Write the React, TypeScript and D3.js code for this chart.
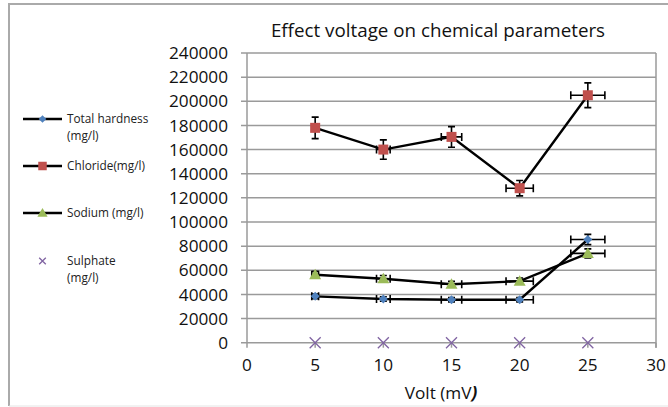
import * as d3 from 'd3'
import { useRef, useEffect } from 'react'

// volts on x axis
const volts = [5, 10, 15, 20, 25]
const hardness = [38400, 36200, 35600, 35600, 85500]
const chloride = [178000, 160000, 170500, 128000, 205000]
const sodium = [56300, 53000, 48400, 51000, 74000]
const sulphate = [0, 0, 0, 0, 0]
const yTicks = [0, 20000, 40000, 60000, 80000, 100000, 120000, 140000, 160000, 180000, 200000, 220000, 240000]
const xTicks = [0, 5, 10, 15, 20, 25, 30]
const errPct = 0.05

const series = [
    { name: ['Total hardness', '(mg/l)'], values: hardness, color: '#4f81bd', shape: 'diamond', line: true, err: true },
    { name: ['Chloride(mg/l)'], values: chloride, color: '#c0504d', shape: 'square', line: true, err: true },
    { name: ['Sodium (mg/l)'], values: sodium, color: '#9bbb59', shape: 'triangle', line: true, err: true },
    { name: ['Sulphate', '(mg/l)'], values: sulphate, color: '#8064a2', shape: 'x', line: false, err: false },
]

const font = "'Open Sans', sans-serif"

function App() {
    const svgRef = useRef<SVGSVGElement>(null)

    useEffect(() => {
        const svg = d3.select(svgRef.current)
        svg.selectAll('*').remove()
        const width = 668
        const height = 407
        svg.attr('width', width).attr('height', height)

        // outer frame
        svg.append('rect').attr('x', 0).attr('y', 0).attr('width', width).attr('height', height).attr('fill', '#fff')
        svg.append('path').attr('d', `M9,406 L9,4 L668,4`).attr('fill', 'none').attr('stroke', '#aaa').attr('stroke-width', 2)
        svg.append('line').attr('x1', 9).attr('x2', 668).attr('y1', 406).attr('y2', 406).attr('stroke', '#e4e4e4')

        const left = 247, right = 656, top = 53, bottom = 342.7
        const scaleX = d3.scaleLinear().domain([0, 30]).range([left, right])
        const scaleY = d3.scaleLinear().domain([0, 240000]).range([bottom, top])

        // grid
        svg.append('g').selectAll('line').data(yTicks).join('line')
            .attr('x1', left - 6).attr('x2', right)
            .attr('y1', d => scaleY(d)).attr('y2', d => scaleY(d))
            .attr('stroke', '#9a9a9a').attr('stroke-width', 1.5)
        svg.append('line').attr('x1', left).attr('x2', left).attr('y1', top).attr('y2', bottom)
            .attr('stroke', '#9a9a9a').attr('stroke-width', 1.5)
        svg.append('line').attr('x1', right).attr('x2', right).attr('y1', top).attr('y2', bottom + 5)
            .attr('stroke', '#9a9a9a').attr('stroke-width', 1.5)
        svg.append('g').selectAll('line').data(xTicks).join('line')
            .attr('x1', d => scaleX(d)).attr('x2', d => scaleX(d))
            .attr('y1', bottom).attr('y2', bottom + 5)
            .attr('stroke', '#9a9a9a').attr('stroke-width', 1.5)

        // tick labels
        svg.append('g').selectAll('text').data(yTicks).join('text')
            .attr('x', left - 19).attr('y', d => scaleY(d))
            .attr('dy', '0.36em').attr('text-anchor', 'end')
            .attr('font-family', font).attr('font-size', 17.2).attr('fill', '#111')
            .text(d => d)
        svg.append('g').selectAll('text').data(xTicks).join('text')
            .attr('x', d => scaleX(d)).attr('y', bottom + 28)
            .attr('text-anchor', 'middle')
            .attr('font-family', font).attr('font-size', 17.2).attr('fill', '#111')
            .text(d => d)

        // titles
        svg.append('text').attr('x', 438).attr('y', 37).attr('text-anchor', 'middle')
            .attr('font-family', font).attr('font-size', 18.8).attr('fill', '#111')
            .text('Effect voltage on chemical parameters')
        const xt = svg.append('text').attr('x', 441).attr('y', 399).attr('text-anchor', 'middle')
            .attr('font-family', font).attr('font-size', 17.2).attr('fill', '#111')
        xt.append('tspan').text('Volt (mV')
        xt.append('tspan').attr('font-style', 'italic').attr('font-weight', 'bold').text(')')

        const drawMarker = (g, shape, color, x, y, scale = 1) => {
            if (shape === 'diamond') {
                const s = 4.5 * scale
                g.append('path').attr('d', `M${x},${y - s} L${x + s},${y} L${x},${y + s} L${x - s},${y} Z`).attr('fill', color)
            } else if (shape === 'square') {
                const s = 5 * scale
                g.append('rect').attr('x', x - s).attr('y', y - s).attr('width', 2 * s).attr('height', 2 * s).attr('fill', color)
            } else if (shape === 'triangle') {
                const s = 6 * scale
                g.append('path').attr('d', `M${x},${y - s} L${x + s},${y + s * 0.75} L${x - s},${y + s * 0.75} Z`).attr('fill', color)
            } else {
                const s = 5.5 * scale
                g.append('path').attr('d', `M${x - s},${y - s} L${x + s},${y + s} M${x - s},${y + s} L${x + s},${y - s}`)
                    .attr('stroke', color).attr('stroke-width', 1.3)
            }
        }

        const line = d3.line<number>().x((_, i) => scaleX(volts[i])).y(d => scaleY(d))

        series.forEach(s => {
            const g = svg.append('g')
            if (s.line) {
                g.append('path').attr('d', line(s.values)).attr('fill', 'none')
                    .attr('stroke', '#000').attr('stroke-width', 2.4)
            }
            if (s.err) {
                s.values.forEach((v, i) => {
                    const x = scaleX(volts[i]), y = scaleY(v)
                    const x0 = scaleX(volts[i] * (1 - errPct)), x1 = scaleX(volts[i] * (1 + errPct))
                    const y0 = scaleY(v * (1 - errPct)), y1 = scaleY(v * (1 + errPct))
                    const p = `M${x0},${y} L${x1},${y} M${x0},${y - 4} L${x0},${y + 4} M${x1},${y - 4} L${x1},${y + 4}` +
                        ` M${x},${y0} L${x},${y1} M${x - 3.5},${y0} L${x + 3.5},${y0} M${x - 3.5},${y1} L${x + 3.5},${y1}`
                    g.append('path').attr('d', p).attr('fill', 'none').attr('stroke', '#000').attr('stroke-width', 1.6)
                })
            }
            s.values.forEach((v, i) => drawMarker(g, s.shape, s.color, scaleX(volts[i]), scaleY(v)))
        })

        // legend
        const legendY = [119, 166, 213, 261]
        series.forEach((s, i) => {
            const g = svg.append('g')
            const y = legendY[i]
            if (s.line) {
                g.append('line').attr('x1', 23).attr('x2', 62).attr('y1', y).attr('y2', y)
                    .attr('stroke', '#000').attr('stroke-width', 2.4)
            }
            drawMarker(g, s.shape, s.color, 42.5, y, s.shape === 'x' ? 0.6 : 0.85)
            s.name.forEach((t, j) => {
                g.append('text').attr('x', 67).attr('y', y + j * 17).attr('dy', '0.35em')
                    .attr('font-family', font).attr('font-size', 11.8).attr('fill', '#222')
                    .text(t)
            })
        })
    }, [])

    return (
        <svg ref={svgRef} style={{ position: 'absolute', left: 0, top: 0 }}></svg>
    )
}

export default App
